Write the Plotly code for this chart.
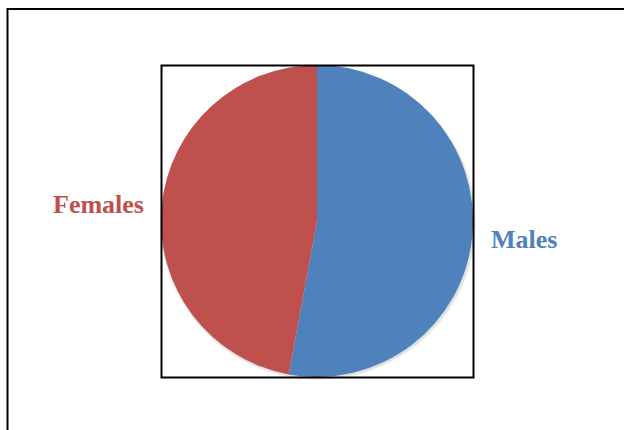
import plotly.graph_objects as go

labels = ["Males", "Females"]
values = [52.9, 47.1]
colors = ["#4F81BD", "#C0504D"]

W, H = 624, 430

def px(x):
    return x / W

def py(y):
    return 1 - y / H

fig = go.Figure()
fig.add_trace(go.Pie(
    labels=labels, values=values, sort=False, direction="clockwise", rotation=0,
    marker=dict(colors=colors, line=dict(width=0)),
    textinfo="none", hoverinfo="label+percent", showlegend=False,
    domain=dict(x=[px(161), px(473)], y=[py(377), py(65)]),
))

shapes = [
    # outer frame (extends beyond the image right/bottom)
    dict(type="rect", xref="paper", yref="paper", x0=px(7.5), x1=px(640), y0=py(9), y1=py(450),
         line=dict(color="black", width=2), layer="below"),
    # soft shadow
    dict(type="circle", xref="paper", yref="paper", x0=px(160), x1=px(476), y0=py(380), y1=py(66),
         line=dict(width=0), fillcolor="rgba(0,0,0,0.06)", layer="below"),
    dict(type="circle", xref="paper", yref="paper", x0=px(161), x1=px(475), y0=py(379), y1=py(66),
         line=dict(width=0), fillcolor="rgba(0,0,0,0.06)", layer="below"),
    # inner square
    dict(type="rect", xref="paper", yref="paper", x0=px(161.5), x1=px(473.5), y0=py(377.5), y1=py(65.5),
         line=dict(color="black", width=2), layer="above"),
]

annotations = [
    dict(text="<b>Females</b>", x=px(98), y=py(204), xref="paper", yref="paper", showarrow=False,
         xanchor="center", yanchor="middle",
         font=dict(family="Liberation Serif, Times New Roman, serif", size=26, color="#C0504D")),
    dict(text="<b>Males</b>", x=px(524), y=py(239), xref="paper", yref="paper", showarrow=False,
         xanchor="center", yanchor="middle",
         font=dict(family="Liberation Serif, Times New Roman, serif", size=26, color="#4F81BD")),
]

fig.update_layout(
    width=W, height=H, margin=dict(l=0, r=0, t=0, b=0),
    paper_bgcolor="white", plot_bgcolor="white",
    shapes=shapes, annotations=annotations,
)

fig.write_html("out.html")
